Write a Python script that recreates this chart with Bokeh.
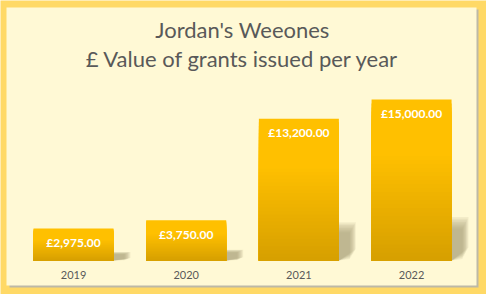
from bokeh.plotting import figure
from bokeh.models import Range1d, Label, BoxAnnotation
from bokeh.embed import file_html
from bokeh.resources import INLINE
from bokeh.core.properties import value

years = ["2019", "2020", "2021", "2022"]
grants = [2975, 3750, 13200, 15000]
value_labels = ["£2,975.00", "£3,750.00", "£13,200.00", "£15,000.00"]
title_lines = ["Jordan's Weeones", "£ Value of grants issued per year"]

W, H = 486, 294
p = figure(width=W, height=H, output_backend="svg", toolbar_location=None,
           x_axis_location=None, y_axis_location=None,
           x_range=Range1d(-0.148, 4.165), y_range=Range1d(-3168, 24224),
           min_border=0, background_fill_color="#FFD966",
           border_fill_color="#FFD966")
p.outline_line_color = None
p.grid.visible = False

# panel shadow and panel
p.add_layout(BoxAnnotation(left=9, right=478, top=H - 9, bottom=H - 287,
                           left_units="screen", right_units="screen",
                           top_units="screen", bottom_units="screen",
                           fill_color="#BDB9A6", fill_alpha=1.0, line_color=None,
                           level="underlay"))
p.add_layout(BoxAnnotation(left=6, right=476, top=H - 7, bottom=H - 285,
                           left_units="screen", right_units="screen",
                           top_units="screen", bottom_units="screen",
                           fill_color="#FFF9D5", fill_alpha=1.0, line_color=None,
                           level="underlay"))

xs = [i + 0.5 for i in range(len(years))]
bw = 0.71
dx = 0.15

# soft perspective shadows (layered for a blurred edge)
layers = 8
for layer in range(layers):
    s = layer / layers
    pxs, pys = [], []
    for x, v in zip(xs, grants):
        hs = 0.27 * v * (1 - 0.3 * s)
        xl, xr = x - bw / 2, x + bw / 2
        d = dx * (1 - 0.4 * s)
        pxs.append([xl, xl + d, xr + d, xr + d, xr])
        pys.append([0, hs, hs, 0.08 * v * (1 - s), 0])
    p.patches(pxs, pys, fill_color="#A39D74", fill_alpha=0.13, line_color=None)

# gradient bars: overlapping stacks drawn tallest first (no seams)
N = 40
top_c = (0xFF, 0xC0, 0x00)
bot_c = (0xD6, 0x9F, 0x00)
L, R, B, T, C = [], [], [], [], []
for x, v in zip(xs, grants):
    for k in range(N, 0, -1):
        f = (k - 0.5) / N  # 0 bottom .. 1 top
        g = min(1.0, f * 1.5)
        col = tuple(int(round(bot_c[j] + (top_c[j] - bot_c[j]) * g)) for j in range(3))
        L.append(x - bw / 2)
        R.append(x + bw / 2)
        B.append(0)
        T.append(v * k / N)
        C.append("#%02X%02X%02X" % col)
p.quad(left=L, right=R, bottom=B, top=T, fill_color=C, line_color=None)

# value labels
p.text(x=xs, y=grants, text=value_labels, text_color="white",
       text_font=value("Lato"), text_font_style="bold", text_font_size="12px",
       text_align="center", text_baseline="middle", y_offset=14)

# category labels
p.text(x=xs, y=[0] * len(xs), text=years, text_color="#595959",
       text_font=value("Lato"), text_font_size="11px",
       text_align="center", text_baseline="middle", y_offset=15)

# title
for i, line in enumerate(title_lines):
    p.add_layout(Label(x=242, y=H - 29 - 29 * i, x_units="screen", y_units="screen",
                       text=line, text_font="Lato", text_font_size="22px",
                       text_color="#595959", text_align="center",
                       text_baseline="middle"))

open("out.html", "w").write(file_html(p, INLINE))
